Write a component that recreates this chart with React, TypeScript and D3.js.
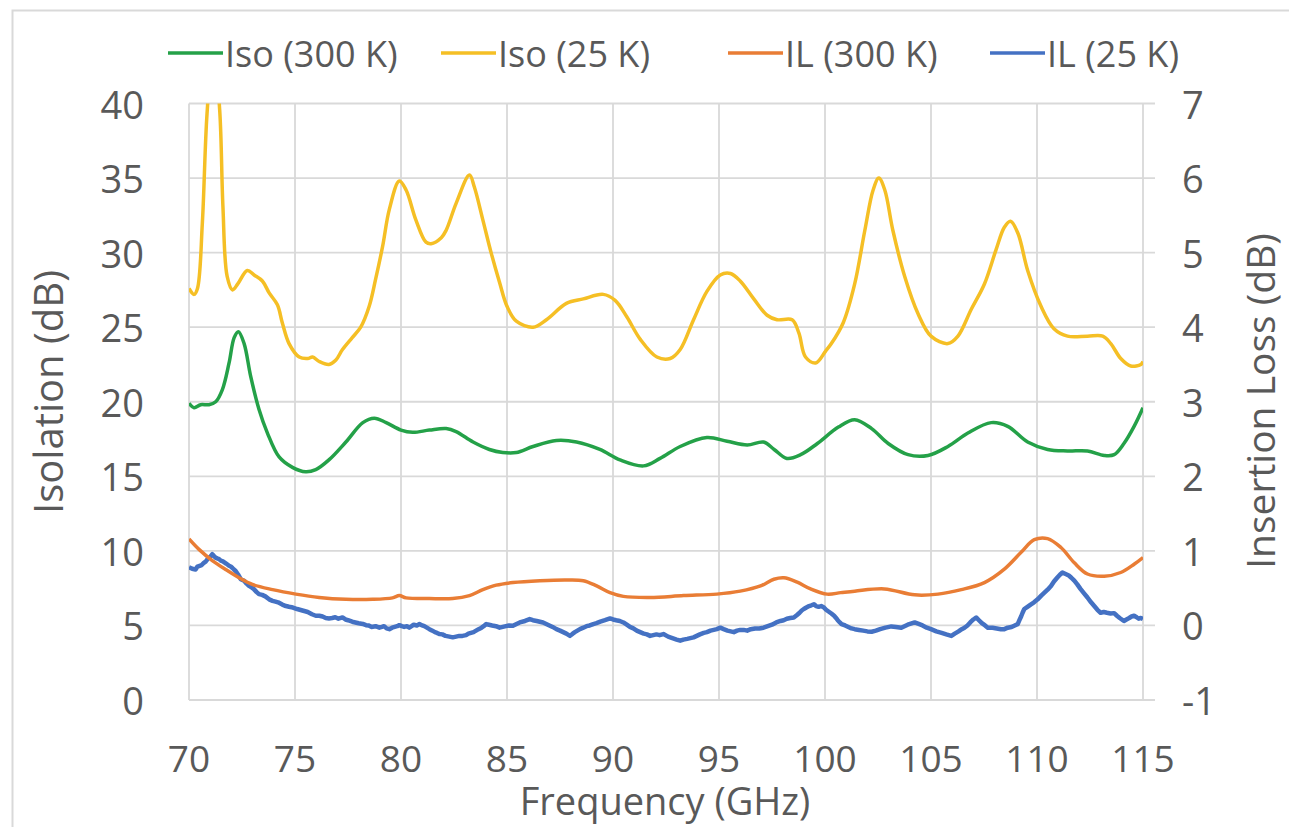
import * as d3 from "d3";
import React, { useEffect, useRef } from "react";

// [frequency GHz, isolation dB]
const iso300K: [number, number][] = [
  [70, 19.9], [70.24, 19.6], [70.55, 19.8], [70.94, 19.8], [71.26, 20.0], [71.57, 20.8],
  [71.89, 22.6], [72.13, 24.3], [72.33, 24.7], [72.6, 23.9], [72.91, 21.7], [73.3, 19.5],
  [73.7, 17.9], [74.25, 16.3], [74.88, 15.6], [75.5, 15.3], [75.98, 15.45], [76.6, 16.1],
  [77.4, 17.3], [78.2, 18.6], [78.74, 18.9], [79.3, 18.6], [80.0, 18.1], [80.55, 17.95],
  [81.34, 18.1], [82.13, 18.2], [82.6, 18.0], [83.4, 17.3], [84.17, 16.8], [84.8, 16.6],
  [85.44, 16.6], [86.23, 17.0], [87.33, 17.4], [88.28, 17.3], [89.38, 16.8], [90.33, 16.1],
  [91.44, 15.7], [92.22, 16.2], [93.17, 17.0], [94.43, 17.6], [95.38, 17.35], [96.33, 17.1],
  [97.1, 17.3], [97.6, 16.8], [98.2, 16.2], [98.85, 16.45], [99.64, 17.2], [100.63, 18.3],
  [101.4, 18.8], [102.2, 18.2], [102.98, 17.2], [103.92, 16.45], [104.86, 16.4], [105.8, 17.0],
  [106.74, 17.9], [107.84, 18.6], [108.62, 18.35], [109.56, 17.3], [110.5, 16.8], [111.44, 16.7],
  [112.38, 16.7], [113.17, 16.4], [113.64, 16.45], [114.1, 17.2], [114.58, 18.35], [115, 19.6],
];

const iso25K: [number, number][] = [
  [70, 27.6], [70.24, 27.2], [70.4, 27.6], [70.63, 32], [70.85, 39.3], [71.15, 44],
  [71.45, 39.5], [71.6, 33.1], [71.8, 28.4], [72.05, 27.5], [72.3, 27.9], [72.75, 28.8],
  [73.07, 28.5], [73.46, 28.1], [73.78, 27.3], [74.17, 26.5], [74.4, 25.3], [74.72, 23.9],
  [75.2, 23.0], [75.6, 22.9], [75.83, 23.0], [76.14, 22.7], [76.6, 22.5], [76.93, 22.8],
  [77.24, 23.5], [77.7, 24.3], [78.1, 25.0], [78.5, 26.4], [78.8, 28.2], [79.13, 30.4],
  [79.45, 32.9], [79.92, 34.8], [80.24, 34.2], [80.7, 32.2], [81.18, 30.7], [81.42, 30.6],
  [81.9, 31.0], [82.13, 31.5], [82.6, 33.3], [83.23, 35.2], [83.46, 34.4], [83.86, 32.2],
  [84.25, 30.0], [84.65, 28.0], [85.0, 26.4], [85.44, 25.4], [86.23, 25.0], [86.86, 25.5],
  [87.8, 26.6], [88.6, 26.9], [89.54, 27.2], [90.1, 26.8], [90.65, 25.7], [91.28, 24.2],
  [92.07, 23.0], [92.7, 22.9], [93.17, 23.5], [93.8, 25.5], [94.43, 27.4], [95.06, 28.5],
  [95.54, 28.6], [96.0, 28.1], [96.64, 26.9], [97.27, 25.8], [97.74, 25.5], [98.45, 25.5],
  [98.77, 24.6], [99.08, 23.0], [99.56, 22.6], [100.03, 23.4], [100.3, 23.9], [100.86, 25.3],
  [101.4, 27.9], [101.88, 31.5], [102.27, 34.2], [102.54, 35.0], [102.82, 34.2], [103.2, 31.5],
  [103.76, 28.4], [104.39, 25.9], [105.0, 24.4], [105.8, 23.9], [106.27, 24.4], [106.9, 26.2],
  [107.52, 27.9], [108.07, 30.2], [108.46, 31.7], [108.75, 32.1], [109.1, 31.3], [109.56, 28.8],
  [110.19, 26.4], [110.8, 24.9], [111.44, 24.4], [112.38, 24.4], [113.1, 24.4], [113.48, 23.9],
  [113.95, 22.9], [114.42, 22.4], [114.9, 22.5], [115, 22.7],
];

// [frequency GHz, insertion loss dB]
const il300K: [number, number][] = [
  [70, 1.16], [70.47, 1.02], [71.1, 0.87], [71.73, 0.75], [72.36, 0.64], [72.99, 0.55],
  [73.94, 0.48], [75.04, 0.42], [76.14, 0.375], [77.4, 0.35], [78.66, 0.35], [79.6, 0.37],
  [79.92, 0.4], [80.24, 0.37], [81.34, 0.36], [82.44, 0.36], [83.23, 0.4], [83.86, 0.48],
  [84.49, 0.54], [85.28, 0.575], [86.55, 0.6], [87.8, 0.61], [88.6, 0.6], [89.23, 0.53],
  [89.86, 0.44], [90.49, 0.39], [91.75, 0.375], [93.33, 0.4], [94.9, 0.42], [96.0, 0.46],
  [96.96, 0.53], [97.59, 0.62], [98.06, 0.64], [98.69, 0.58], [99.32, 0.49], [100.1, 0.42],
  [100.74, 0.44], [101.4, 0.46], [102.8, 0.49], [104.23, 0.41], [105.33, 0.42], [106.43, 0.48],
  [107.52, 0.575], [108.46, 0.755], [109.25, 0.98], [109.87, 1.15], [110.5, 1.165], [111.13, 1.045],
  [111.76, 0.84], [112.38, 0.69], [113.17, 0.66], [113.95, 0.71], [114.58, 0.82], [115, 0.91],
];

const il25K: [number, number][] = [
  [70, 0.78], [70.15, 0.76], [70.31, 0.75], [70.4, 0.79], [70.5, 0.8], [70.6, 0.81],
  [70.7, 0.84], [70.8, 0.86], [70.9, 0.9], [71.0, 0.92], [71.1, 0.955], [71.18, 0.93],
  [71.25, 0.91], [71.33, 0.9], [71.42, 0.89], [71.5, 0.87], [71.6, 0.86], [71.75, 0.83],
  [71.89, 0.8], [71.97, 0.79], [72.05, 0.77], [72.12, 0.75], [72.2, 0.73], [72.32, 0.68],
  [72.44, 0.62], [72.52, 0.61], [72.6, 0.6], [72.72, 0.56], [72.83, 0.53], [72.95, 0.51],
  [73.05, 0.49], [73.18, 0.45], [73.3, 0.42], [73.45, 0.41], [73.6, 0.39], [73.78, 0.35],
  [73.94, 0.33], [74.08, 0.32], [74.2, 0.31], [74.4, 0.28], [74.57, 0.26], [74.72, 0.25],
  [74.9, 0.24], [75.1, 0.22], [75.35, 0.2], [75.48, 0.19], [75.6, 0.18], [75.8, 0.15],
  [75.98, 0.13], [76.15, 0.13], [76.3, 0.12], [76.45, 0.1], [76.6, 0.094], [76.75, 0.1],
  [76.9, 0.11], [77.05, 0.09], [77.24, 0.107], [77.38, 0.08], [77.5, 0.07], [77.6, 0.06],
  [77.7, 0.05], [77.85, 0.04], [78.0, 0.03], [78.2, 0.02], [78.35, 0.004], [78.48, 0.0],
  [78.6, -0.02], [78.8, -0.01], [78.98, -0.03], [79.1, -0.02], [79.2, -0.01], [79.32, -0.04],
  [79.45, -0.05], [79.58, -0.03], [79.7, -0.02], [79.82, -0.01], [79.92, 0.004], [80.04, -0.01],
  [80.15, -0.02], [80.28, -0.01], [80.39, -0.03], [80.5, -0.01], [80.6, 0.01], [80.75, 0.0],
  [80.87, 0.018], [81.0, 0.0], [81.1, -0.01], [81.22, -0.03], [81.34, -0.05], [81.48, -0.07],
  [81.6, -0.09], [81.7, -0.1], [81.81, -0.116], [81.95, -0.12], [82.1, -0.14], [82.28, -0.15],
  [82.44, -0.16], [82.6, -0.15], [82.75, -0.14], [82.9, -0.14], [83.07, -0.13], [83.18, -0.11],
  [83.3, -0.1], [83.42, -0.09], [83.54, -0.07], [83.66, -0.05], [83.8, -0.03], [83.9, -0.01],
  [84.02, 0.018], [84.15, 0.01], [84.3, 0.0], [84.48, -0.01], [84.65, -0.03], [84.8, -0.02],
  [84.95, -0.01], [85.1, 0.0], [85.28, -0.004], [85.45, 0.02], [85.6, 0.04], [85.85, 0.06],
  [86.07, 0.085], [86.22, 0.07], [86.4, 0.06], [86.55, 0.05], [86.7, 0.04], [86.85, 0.02],
  [87.0, 0.0], [87.15, -0.02], [87.33, -0.05], [87.5, -0.07], [87.65, -0.09], [87.8, -0.11],
  [87.97, -0.14], [88.1, -0.11], [88.2, -0.09], [88.32, -0.07], [88.44, -0.05], [88.6, -0.03],
  [88.75, -0.01], [88.9, 0.0], [89.07, 0.018], [89.22, 0.03], [89.4, 0.05], [89.62, 0.07],
  [89.86, 0.094], [90.0, 0.08], [90.15, 0.07], [90.32, 0.06], [90.49, 0.04], [90.65, 0.01],
  [90.8, -0.02], [90.96, -0.04], [91.12, -0.07], [91.28, -0.09], [91.45, -0.11], [91.6, -0.12],
  [91.75, -0.14], [91.9, -0.13], [92.05, -0.12], [92.2, -0.13], [92.38, -0.116], [92.6, -0.15],
  [92.8, -0.17], [93.0, -0.19], [93.17, -0.205], [93.32, -0.19], [93.5, -0.18], [93.65, -0.17],
  [93.8, -0.16], [93.95, -0.14], [94.1, -0.12], [94.28, -0.1], [94.43, -0.09], [94.6, -0.07],
  [94.75, -0.06], [94.9, -0.05], [95.06, -0.03], [95.22, -0.05], [95.4, -0.07], [95.55, -0.08],
  [95.7, -0.09], [95.85, -0.07], [96.0, -0.06], [96.16, -0.06], [96.33, -0.07], [96.5, -0.05],
  [96.7, -0.04], [96.9, -0.04], [97.1, -0.03], [97.3, -0.01], [97.5, 0.01], [97.7, 0.04],
  [97.9, 0.06], [98.05, 0.07], [98.2, 0.09], [98.36, 0.1], [98.53, 0.107], [98.68, 0.14],
  [98.8, 0.17], [98.9, 0.2], [99.0, 0.22], [99.12, 0.24], [99.25, 0.26], [99.36, 0.27],
  [99.48, 0.285], [99.58, 0.26], [99.7, 0.25], [99.82, 0.26], [99.95, 0.24], [100.05, 0.21],
  [100.15, 0.19], [100.3, 0.16], [100.43, 0.13], [100.52, 0.1], [100.6, 0.07], [100.7, 0.04],
  [100.78, 0.018], [100.95, 0.0], [101.1, -0.02], [101.25, -0.04], [101.4, -0.05], [101.6, -0.06],
  [101.8, -0.07], [102.0, -0.08], [102.2, -0.085], [102.4, -0.07], [102.6, -0.05], [102.85, -0.03],
  [103.13, -0.013], [103.35, -0.02], [103.6, -0.03], [103.9, 0.01], [104.23, 0.04], [104.42, 0.02],
  [104.6, 0.0], [104.8, -0.03], [105.0, -0.05], [105.25, -0.08], [105.5, -0.1], [105.72, -0.12],
  [105.96, -0.14], [106.12, -0.11], [106.3, -0.08], [106.45, -0.05], [106.58, -0.03], [106.72, 0.0],
  [106.85, 0.04], [107.0, 0.08], [107.13, 0.107], [107.26, 0.07], [107.4, 0.03], [107.55, 0.0],
  [107.68, -0.03], [107.9, -0.03], [108.1, -0.04], [108.3, -0.05], [108.46, -0.05], [108.62, -0.03],
  [108.8, -0.02], [108.95, 0.0], [109.09, 0.018], [109.17, 0.07], [109.25, 0.12], [109.32, 0.17],
  [109.4, 0.22], [109.55, 0.25], [109.7, 0.28], [109.86, 0.31], [110.03, 0.35], [110.2, 0.4],
  [110.35, 0.44], [110.5, 0.48], [110.66, 0.53], [110.8, 0.59], [110.95, 0.64], [111.08, 0.68],
  [111.2, 0.71], [111.35, 0.69], [111.5, 0.67], [111.62, 0.64], [111.76, 0.6], [111.9, 0.55],
  [112.05, 0.49], [112.22, 0.43], [112.38, 0.375], [112.55, 0.31], [112.7, 0.26], [112.85, 0.21],
  [113.0, 0.17], [113.15, 0.18], [113.3, 0.17], [113.47, 0.16], [113.64, 0.165], [113.77, 0.13],
  [113.9, 0.1], [114.0, 0.08], [114.1, 0.06], [114.22, 0.08], [114.35, 0.1], [114.46, 0.12],
  [114.58, 0.13], [114.7, 0.11], [114.8, 0.09], [114.9, 0.1], [115, 0.085],
];

const xTicks = [70, 75, 80, 85, 90, 95, 100, 105, 110, 115];
const leftTicks = [0, 5, 10, 15, 20, 25, 30, 35, 40];
const rightTicks = [-1, 0, 1, 2, 3, 4, 5, 6, 7];

const legendItems = [
  { name: "Iso (300 K)", color: "#24a148", x: 168 },
  { name: "Iso (25 K)", color: "#f5bf25", x: 441 },
  { name: "IL (300 K)", color: "#e97d35", x: 728 },
  { name: "IL (25 K)", color: "#4471c3", x: 990 },
];

const App: React.FC = () => {
  const svgRef = useRef<SVGSVGElement | null>(null);

  useEffect(() => {
    if (!svgRef.current) return;
    const svg = d3.select(svgRef.current);
    svg.selectAll("*").remove();

    const width = 1289;
    const height = 827;
    const plot = { left: 189, right: 1143, top: 103.5, bottom: 700 };
    const font = "'Open Sans', sans-serif";
    const textColor = "#595959";
    const gridColor = "#d9d9d9";

    const x = d3.scaleLinear().domain([70, 115]).range([plot.left, plot.right]);
    const yL = d3.scaleLinear().domain([0, 40]).range([plot.bottom, plot.top]);
    const yR = d3.scaleLinear().domain([-1, 7]).range([plot.bottom, plot.top]);

    svg.append("rect").attr("width", width).attr("height", height).attr("fill", "#fff");

    // outer chart border
    svg
      .append("rect")
      .attr("x", 12.5)
      .attr("y", 10.5)
      .attr("width", width + 20)
      .attr("height", height + 20)
      .attr("fill", "none")
      .attr("stroke", gridColor)
      .attr("stroke-width", 2);

    // clip
    svg
      .append("defs")
      .append("clipPath")
      .attr("id", "plot-clip")
      .append("rect")
      .attr("x", plot.left)
      .attr("y", plot.top)
      .attr("width", plot.right - plot.left)
      .attr("height", plot.bottom - plot.top);

    // === Gridlines ===
    svg
      .append("g")
      .selectAll("line")
      .data(leftTicks)
      .enter()
      .append("line")
      .attr("x1", plot.left)
      .attr("x2", plot.right + 12)
      .attr("y1", (d) => yL(d))
      .attr("y2", (d) => yL(d))
      .attr("stroke", gridColor)
      .attr("stroke-width", 1.8);

    svg
      .append("g")
      .selectAll("line")
      .data(xTicks)
      .enter()
      .append("line")
      .attr("x1", (d) => x(d))
      .attr("x2", (d) => x(d))
      .attr("y1", plot.top)
      .attr("y2", plot.bottom)
      .attr("stroke", gridColor)
      .attr("stroke-width", 1.8);

    // === Tick labels ===
    svg
      .append("g")
      .selectAll("text")
      .data(leftTicks)
      .enter()
      .append("text")
      .attr("x", 144)
      .attr("y", (d) => yL(d))
      .attr("text-anchor", "end")
      .attr("dominant-baseline", "central")
      .attr("font-family", font)
      .attr("font-size", 38)
      .attr("fill", textColor)
      .text((d) => d);

    svg
      .append("g")
      .selectAll("text")
      .data(rightTicks)
      .enter()
      .append("text")
      .attr("x", 1182)
      .attr("y", (d) => yR(d))
      .attr("dominant-baseline", "central")
      .attr("font-family", font)
      .attr("font-size", 38)
      .attr("fill", textColor)
      .text((d) => d);

    svg
      .append("g")
      .selectAll("text")
      .data(xTicks)
      .enter()
      .append("text")
      .attr("x", (d) => x(d))
      .attr("y", 757)
      .attr("text-anchor", "middle")
      .attr("dominant-baseline", "central")
      .attr("font-family", font)
      .attr("font-size", 37)
      .attr("fill", textColor)
      .text((d) => d);

    // === Axis titles ===
    svg
      .append("text")
      .attr("x", 665)
      .attr("y", 800)
      .attr("text-anchor", "middle")
      .attr("dominant-baseline", "central")
      .attr("font-family", font)
      .attr("font-size", 38)
      .attr("fill", textColor)
      .text("Frequency (GHz)");

    svg
      .append("text")
      .attr("transform", "translate(47,392) rotate(-90)")
      .attr("text-anchor", "middle")
      .attr("dominant-baseline", "central")
      .attr("font-family", font)
      .attr("font-size", 40)
      .attr("fill", textColor)
      .text("Isolation (dB)");

    svg
      .append("text")
      .attr("transform", "translate(1259,401) rotate(-90)")
      .attr("text-anchor", "middle")
      .attr("dominant-baseline", "central")
      .attr("font-family", font)
      .attr("font-size", 39)
      .attr("fill", textColor)
      .text("Insertion Loss (dB)");

    // === Lines ===
    const lines = svg.append("g").attr("clip-path", "url(#plot-clip)");

    const smoothL = d3
      .line<[number, number]>()
      .x((d) => x(d[0]))
      .y((d) => yL(d[1]))
      .curve(d3.curveCatmullRom.alpha(0.5));

    const smoothR = d3
      .line<[number, number]>()
      .x((d) => x(d[0]))
      .y((d) => yR(d[1]))
      .curve(d3.curveCatmullRom.alpha(0.5));

    const noisyR = d3
      .line<[number, number]>()
      .x((d) => x(d[0]))
      .y((d) => yR(d[1]));

    const series = [
      { data: il25K, gen: noisyR, color: legendItems[3].color, w: 4.5 },
      { data: il300K, gen: smoothR, color: legendItems[2].color, w: 3.5 },
      { data: iso300K, gen: smoothL, color: legendItems[0].color, w: 3.5 },
      { data: iso25K, gen: smoothL, color: legendItems[1].color, w: 3.5 },
    ];

    series.forEach((s) => {
      lines
        .append("path")
        .datum(s.data)
        .attr("fill", "none")
        .attr("stroke", s.color)
        .attr("stroke-width", s.w)
        .attr("stroke-linejoin", "round")
        .attr("d", s.gen as any);
    });

    // === Legend ===
    const legend = svg.append("g");
    legendItems.forEach((item) => {
      legend
        .append("line")
        .attr("x1", item.x)
        .attr("x2", item.x + 55)
        .attr("y1", 53)
        .attr("y2", 53)
        .attr("stroke", item.color)
        .attr("stroke-width", 3.5);
      legend
        .append("text")
        .attr("x", item.x + 57)
        .attr("y", 53)
        .attr("dominant-baseline", "central")
        .attr("font-family", font)
        .attr("font-size", 36)
        .attr("fill", textColor)
        .text(item.name);
    });
  }, []);

  return (
    <svg
      ref={svgRef}
      width={1289}
      height={827}
      style={{ position: "absolute", left: 0, top: 0 }}
    ></svg>
  );
};

export default App;
